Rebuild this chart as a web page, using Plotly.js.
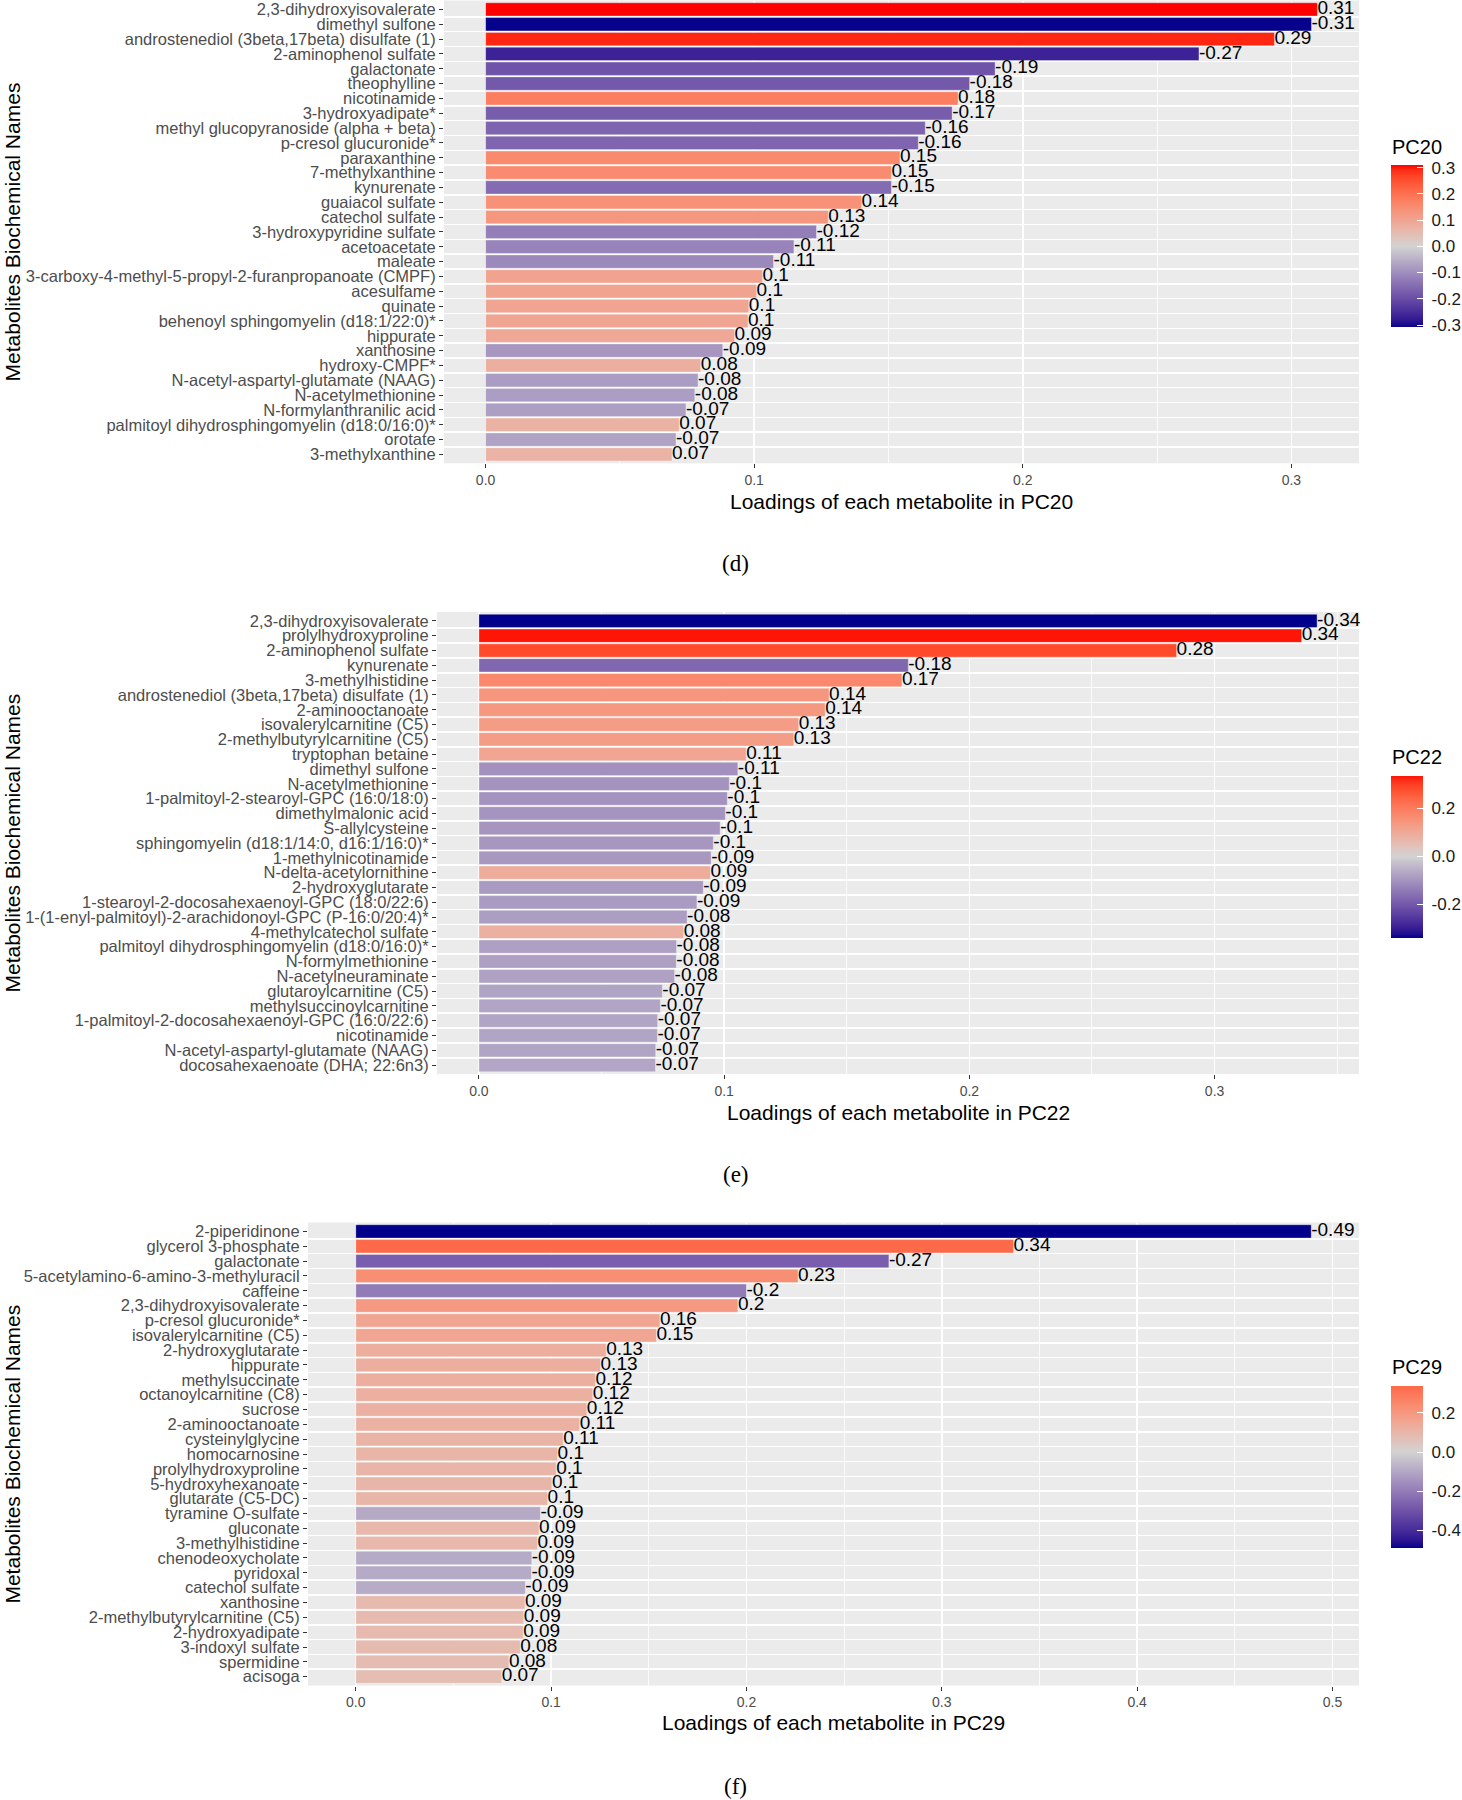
<!DOCTYPE html>
<html>
<head>
<meta charset="utf-8">
<script src="https://cdn.plot.ly/plotly-3.0.1.min.js"></script>
<style>html,body{margin:0;padding:0;background:#ffffff;}</style>
</head>
<body>
<div id="chart" style="width:1462px;height:1800px;"></div>
<script>
// ---------------- DATA ----------------
const namesD = ["2,3-dihydroxyisovalerate","dimethyl sulfone","androstenediol (3beta,17beta) disulfate (1)","2-aminophenol sulfate","galactonate","theophylline","nicotinamide","3-hydroxyadipate*","methyl glucopyranoside (alpha + beta)","p-cresol glucuronide*","paraxanthine","7-methylxanthine","kynurenate","guaiacol sulfate","catechol sulfate","3-hydroxypyridine sulfate","acetoacetate","maleate","3-carboxy-4-methyl-5-propyl-2-furanpropanoate (CMPF)","acesulfame","quinate","behenoyl sphingomyelin (d18:1/22:0)*","hippurate","xanthosine","hydroxy-CMPF*","N-acetyl-aspartyl-glutamate (NAAG)","N-acetylmethionine","N-formylanthranilic acid","palmitoyl dihydrosphingomyelin (d18:0/16:0)*","orotate","3-methylxanthine"];
const loadingsD = [0.3097,-0.3075,0.2937,-0.2656,-0.1897,-0.1802,0.1759,-0.1737,-0.1637,-0.1611,0.1543,0.1511,-0.1511,0.1400,0.1276,-0.1232,-0.1148,-0.1072,0.1031,0.1009,0.0980,0.0977,0.0927,-0.0883,0.0801,-0.0791,-0.0779,-0.0746,0.0721,-0.0709,0.0694];

const namesE = ["2,3-dihydroxyisovalerate","prolylhydroxyproline","2-aminophenol sulfate","kynurenate","3-methylhistidine","androstenediol (3beta,17beta) disulfate (1)","2-aminooctanoate","isovalerylcarnitine (C5)","2-methylbutyrylcarnitine (C5)","tryptophan betaine","dimethyl sulfone","N-acetylmethionine","1-palmitoyl-2-stearoyl-GPC (16:0/18:0)","dimethylmalonic acid","S-allylcysteine","sphingomyelin (d18:1/14:0, d16:1/16:0)*","1-methylnicotinamide","N-delta-acetylornithine","2-hydroxyglutarate","1-stearoyl-2-docosahexaenoyl-GPC (18:0/22:6)","1-(1-enyl-palmitoyl)-2-arachidonoyl-GPC (P-16:0/20:4)*","4-methylcatechol sulfate","palmitoyl dihydrosphingomyelin (d18:0/16:0)*","N-formylmethionine","N-acetylneuraminate","glutaroylcarnitine (C5)","methylsuccinoylcarnitine","1-palmitoyl-2-docosahexaenoyl-GPC (16:0/22:6)","nicotinamide","N-acetyl-aspartyl-glutamate (NAAG)","docosahexaenoate (DHA; 22:6n3)"];
const loadingsE = [-0.3418,0.3355,0.2845,-0.1751,0.1725,0.1428,0.1412,0.1304,0.1284,0.1090,-0.1056,-0.1021,-0.1013,-0.1005,-0.0984,-0.0956,-0.0947,0.0944,-0.0915,-0.0889,-0.0849,0.0835,-0.0806,-0.0805,-0.0798,-0.0748,-0.0740,-0.0729,-0.0728,-0.0721,-0.0720];

const namesF = ["2-piperidinone","glycerol 3-phosphate","galactonate","5-acetylamino-6-amino-3-methyluracil","caffeine","2,3-dihydroxyisovalerate","p-cresol glucuronide*","isovalerylcarnitine (C5)","2-hydroxyglutarate","hippurate","methylsuccinate","octanoylcarnitine (C8)","sucrose","2-aminooctanoate","cysteinylglycine","homocarnosine","prolylhydroxyproline","5-hydroxyhexanoate","glutarate (C5-DC)","tyramine O-sulfate","gluconate","3-methylhistidine","chenodeoxycholate","pyridoxal","catechol sulfate","xanthosine","2-methylbutyrylcarnitine (C5)","2-hydroxyadipate","3-indoxyl sulfate","spermidine","acisoga"];
const loadingsF = [-0.4891,0.3367,-0.2729,0.2264,-0.2000,0.1956,0.1557,0.1539,0.1282,0.1253,0.1227,0.1213,0.1183,0.1146,0.1062,0.1033,0.1026,0.1004,0.0982,-0.0945,0.0938,0.0930,-0.0901,-0.0899,-0.0868,0.0866,0.0860,0.0857,0.0842,0.0784,0.0747];

const pcNames = ["PC20","PC22","PC29"];
const panelTags = ["(d)","(e)","(f)"];
const cbTicksD = [-0.3,-0.2,-0.1,0,0.1,0.2,0.3];
const cbTicksE = [-0.2,0,0.2];
const cbTicksF = [-0.4,-0.2,0,0.2];
const xTitlePrefix = "Loadings of each metabolite in ";
const yTitle = "Metabolites Biochemical Names";

// ---------------- STYLE / LAYOUT ----------------
const W = 1462, H = 1800;
const LOW = "#00008B", MID = "#D3D3D3", HIGH = "#FF0000";
const FONT = "Liberation Sans, Arial, Helvetica, sans-serif";

// pixel geometry of the three panels
const geo = [
  {top: 0.5,  bottom: 463.3,  left: 444, cbTop: 165,  cbTitle: 147,  xTitle: 501.5, tag: 563.5},
  {top: 612,  bottom: 1074,   left: 437, cbTop: 776,  cbTitle: 757,  xTitle: 1112,  tag: 1174},
  {top: 1222.5, bottom: 1685.6, left: 308, cbTop: 1386, cbTitle: 1367, xTitle: 1722.5, tag: 1786}
];
const RIGHT = 1359;

// Lab interpolation (ggplot2 gradient2 style)
function hex2rgb(h){h=h.replace('#','');return [0,2,4].map(i=>parseInt(h.substr(i,2),16));}
function lin(c){c/=255;return c<=0.04045?c/12.92:Math.pow((c+0.055)/1.055,2.4);}
function unlin(c){const v=c<=0.0031308?12.92*c:1.055*Math.pow(c,1/2.4)-0.055;return Math.round(Math.max(0,Math.min(1,v))*255);}
function rgb2lab(rgb){
  const [r,g,b]=rgb.map(lin);
  let X=(0.4124564*r+0.3575761*g+0.1804375*b)/0.95047;
  let Y=(0.2126729*r+0.7151522*g+0.0721750*b);
  let Z=(0.0193339*r+0.1191920*g+0.9503041*b)/1.08883;
  const f=t=>t>0.008856?Math.cbrt(t):7.787*t+16/116;
  const fx=f(X),fy=f(Y),fz=f(Z);
  return [116*fy-16,500*(fx-fy),200*(fy-fz)];
}
function lab2rgb(lab){
  const [L,a,b]=lab;
  const fy=(L+16)/116, fx=fy+a/500, fz=fy-b/200;
  const fi=f=>{const f3=f*f*f;return f3>0.008856?f3:(f-16/116)/7.787;};
  const X=fi(fx)*0.95047, Y=fi(fy), Z=fi(fz)*1.08883;
  const r=3.2404542*X-1.5371385*Y-0.4985314*Z;
  const g=-0.9692660*X+1.8760108*Y+0.0415560*Z;
  const bb=0.0556434*X-0.2040259*Y+1.0572252*Z;
  return 'rgb('+unlin(r)+','+unlin(g)+','+unlin(bb)+')';
}
const LABS=[LOW,MID,HIGH].map(c=>rgb2lab(hex2rgb(c)));
function pal(t){
  let a,b,s;
  if(t<=0.5){a=LABS[0];b=LABS[1];s=t/0.5;}else{a=LABS[1];b=LABS[2];s=(t-0.5)/0.5;}
  return lab2rgb([0,1,2].map(i=>a[i]+(b[i]-a[i])*s));
}
function buildScale(vals){
  const mn=Math.min(...vals), mx=Math.max(...vals);
  const M=Math.max(Math.abs(mn),Math.abs(mx));
  const N=40, cs=[];
  for(let i=0;i<=N;i++){
    const v=mn+(mx-mn)*i/N;
    cs.push([i/N, pal(0.5+v/(2*M))]);
  }
  return {cs, mn, mx, M};
}
const fmtLabel = v => String(Number(v.toFixed(2)));

const sets = [
  {names: namesD, vals: loadingsD, ticks: cbTicksD},
  {names: namesE, vals: loadingsE, ticks: cbTicksE},
  {names: namesF, vals: loadingsF, ticks: cbTicksF}
];

const traces = [];
const layout = {
  width: W, height: H,
  margin: {l:0, r:0, t:0, b:0, autoexpand: false},
  paper_bgcolor: "#FFFFFF",
  plot_bgcolor: "#EBEBEB",
  showlegend: false,
  bargap: 0.1,
  font: {family: FONT, color: "#000000"},
  annotations: []
};

sets.forEach((s, k) => {
  const g = geo[k];
  const sfx = k === 0 ? "" : String(k + 1);
  const idx = s.names.map((_, i) => i);
  const absV = s.vals.map(v => Math.abs(v));
  const sc = buildScale(s.vals);
  const n = s.names.length;

  traces.push({
    type: "bar", orientation: "h",
    x: absV, y: idx,
    xaxis: "x" + sfx, yaxis: "y" + sfx,
    hoverinfo: "skip",
    marker: {
      color: s.vals, colorscale: sc.cs, cmin: sc.mn, cmax: sc.mx,
      line: {color: "rgba(255,255,255,0.6)", width: 0.6},
      showscale: true,
      colorbar: {
        x: 1391 / W, xanchor: "left",
        y: 1 - g.cbTop / H, yanchor: "top",
        len: 162, lenmode: "pixels",
        thickness: 32, thicknessmode: "pixels",
        xpad: 0, ypad: 0, outlinewidth: 0,
        tickmode: "array", tickvals: s.ticks, ticktext: s.ticks.map(v => "\u00A0" + v.toFixed(1)),
        ticks: "inside", ticklen: 6, tickcolor: "#FFFFFF", tickwidth: 1,
        tickfont: {family: FONT, size: 17, color: "#1A1A1A"},
        title: {text: ""}
      }
    }
  });
  traces.push({
    type: "scatter", mode: "text",
    x: absV, y: idx,
    xaxis: "x" + sfx, yaxis: "y" + sfx,
    text: s.vals.map(fmtLabel),
    textposition: "middle right",
    textfont: {family: FONT, size: 19, color: "#000000"},
    cliponaxis: false, hoverinfo: "skip"
  });

  const dom = [g.left / W, RIGHT / W];
  layout["xaxis" + sfx] = {
    domain: dom, anchor: "y" + sfx,
    range: [-0.05 * sc.M, 1.05 * sc.M],
    tickmode: "linear", tick0: 0, dtick: 0.1, tickformat: ".1f",
    ticks: "outside", ticklen: 4, tickwidth: 1, tickcolor: "#333333",
    tickfont: {family: FONT, size: 14, color: "#4D4D4D"},
    showgrid: true, gridcolor: "#FFFFFF", gridwidth: 1.6,
    minor: {tick0: 0, dtick: 0.05, showgrid: true, gridcolor: "#FFFFFF", gridwidth: 0.8, ticks: ""},
    zeroline: false, showline: false, fixedrange: true
  };
  layout["yaxis" + sfx] = {
    domain: [1 - g.bottom / H, 1 - g.top / H], anchor: "x" + sfx,
    range: [n - 1 + 0.6, -0.6],
    tickmode: "array", tickvals: idx, ticktext: s.names,
    ticks: "outside", ticklen: 4, tickwidth: 1, tickcolor: "#333333",
    tickfont: {family: FONT, size: 16.5, color: "#4D4D4D"},
    showgrid: false,
    minor: {tickmode: "array", tickvals: idx.slice(1).map(i => i - 0.5), showgrid: true, gridcolor: "#FFFFFF", gridwidth: 1.6, ticks: ""},
    zeroline: false, showline: false, fixedrange: true
  };

  const cy = 1 - ((g.top + g.bottom) / 2) / H;
  layout.annotations.push({
    xref: "paper", yref: "paper", x: 0, y: cy, xanchor: "left", yanchor: "middle",
    text: yTitle, textangle: -90, showarrow: false, borderpad: 0,
    font: {family: FONT, size: 21, color: "#000000"}
  });
  layout.annotations.push({
    xref: "paper", yref: "paper", x: ((g.left + RIGHT) / 2) / W, y: 1 - g.xTitle / H,
    xanchor: "center", yanchor: "middle",
    text: xTitlePrefix + pcNames[k], showarrow: false,
    font: {family: FONT, size: 21, color: "#000000"}
  });
  layout.annotations.push({
    xref: "paper", yref: "paper", x: 1390 / W, y: 1 - g.cbTitle / H,
    xanchor: "left", yanchor: "middle",
    text: pcNames[k], showarrow: false,
    font: {family: FONT, size: 20, color: "#000000"}
  });
  layout.annotations.push({
    xref: "paper", yref: "paper", x: 735.6 / W, y: 1 - g.tag / H,
    xanchor: "center", yanchor: "middle",
    text: panelTags[k], showarrow: false,
    font: {family: "Liberation Serif, Times New Roman, serif", size: 23, color: "#000000"}
  });
});

Plotly.newPlot("chart", traces, layout, {staticPlot: true, displayModeBar: false});
</script>
</body>
</html>
